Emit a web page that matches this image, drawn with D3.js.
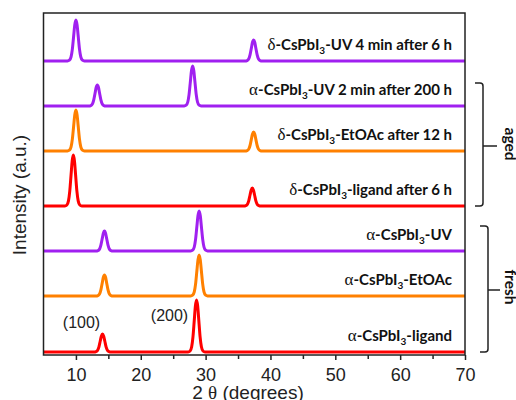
<!DOCTYPE html>
<html><head><meta charset="utf-8">
<script src="https://cdn.jsdelivr.net/npm/d3@7"></script>
<style>body{margin:0;background:#fff}svg{display:block}</style>
</head><body>
<svg id="chart" width="516" height="400"></svg>
<script>
// ---------- data ----------
const xTicks = [10, 20, 30, 40, 50, 60, 70];
const xMinorTicks = [15, 25, 35, 45, 55, 65];
const xDomain = [5, 70];
const yDomain = [0, 342];

// series, top to bottom
const phases = ["δ", "α", "δ", "δ", "α", "α", "α"];
const labelMain = ["-CsPbI", "-CsPbI", "-CsPbI", "-CsPbI", "-CsPbI", "-CsPbI", "-CsPbI"];
const labelSub = ["3", "3", "3", "3", "3", "3", "3"];
const labelTail = ["-UV 4 min after 6 h", "-UV 2 min after 200 h", "-EtOAc after 12 h",
                   "-ligand after 6 h", "-UV", "-EtOAc", "-ligand"];
const colorKeys = ["UV", "UV", "EtOAc", "ligand", "UV", "EtOAc", "ligand"];
const offsets = [294, 249, 204, 149, 104, 59, 3];

const s1 = [[5,0],[8.7,0],[9.0,0.8],[9.25,4.1],[9.45,11.9],[9.65,25],[9.82,36.1],[10.0,41],[10.18,36.1],[10.35,25],[10.55,11.9],[10.75,4.1],[11.0,0.8],[11.3,0],
  [36.1,0],[36.4,0.4],[36.65,2.1],[36.85,6.1],[37.05,12.8],[37.22,18.5],[37.4,21],[37.58,18.5],[37.75,12.8],[37.95,6.1],[38.15,2.1],[38.4,0.4],[38.7,0],[70,0]];
const s2 = [[5,0],[12.0,0],[12.3,0.4],[12.55,2.1],[12.75,6.1],[12.95,12.8],[13.12,18.5],[13.3,21],[13.48,18.5],[13.65,12.8],[13.85,6.1],[14.05,2.1],[14.3,0.4],[14.6,0],
  [26.7,0],[27.0,0.8],[27.25,4],[27.45,11.6],[27.65,24.4],[27.82,35.2],[28.0,40],[28.18,35.2],[28.35,24.4],[28.55,11.6],[28.75,4],[29.0,0.8],[29.3,0],[70,0]];
const s3 = [[5,0],[8.7,0],[9.0,0.8],[9.25,4.1],[9.45,11.9],[9.65,25],[9.82,36.1],[10.0,41],[10.18,36.1],[10.35,25],[10.55,11.9],[10.75,4.1],[11.0,0.8],[11.3,0],
  [36.1,0],[36.4,0.4],[36.65,1.9],[36.85,5.5],[37.05,11.6],[37.22,16.7],[37.4,19],[37.58,16.7],[37.75,11.6],[37.95,5.5],[38.15,1.9],[38.4,0.4],[38.7,0],[70,0]];
const s4 = [[5,0],[8.3,0],[8.6,1],[8.85,5.1],[9.05,14.8],[9.25,31.1],[9.42,44.9],[9.6,51],[9.78,44.9],[9.95,31.1],[10.15,14.8],[10.35,5.1],[10.6,1],[10.9,0],
  [35.9,0],[36.2,0.4],[36.45,1.8],[36.65,5.2],[36.85,11],[37.02,15.8],[37.2,18],[37.38,15.8],[37.55,11],[37.75,5.2],[37.95,1.8],[38.2,0.4],[38.5,0],[70,0]];
const s5 = [[5,0],[13.1,0],[13.4,0.4],[13.65,2],[13.85,5.8],[14.05,12.2],[14.22,17.6],[14.4,20],[14.58,17.6],[14.75,12.2],[14.95,5.8],[15.15,2],[15.4,0.4],[15.7,0],
  [27.7,0],[28.0,0.8],[28.25,4],[28.45,11.6],[28.65,24.4],[28.82,35.2],[29.0,40],[29.18,35.2],[29.35,24.4],[29.55,11.6],[29.75,4],[30.0,0.8],[30.3,0],[70,0]];
const s6 = [[5,0],[13.1,0],[13.4,0.4],[13.65,2.1],[13.85,6.1],[14.05,12.8],[14.22,18.5],[14.4,21],[14.58,18.5],[14.75,12.8],[14.95,6.1],[15.15,2.1],[15.4,0.4],[15.7,0],
  [27.7,0],[28.0,0.8],[28.25,4.1],[28.45,11.9],[28.65,25],[28.82,36.1],[29.0,41],[29.18,36.1],[29.35,25],[29.55,11.9],[29.75,4.1],[30.0,0.8],[30.3,0],[70,0]];
const s7 = [[5,0],[12.8,0],[13.1,0.4],[13.35,1.8],[13.55,5.2],[13.75,11],[13.92,15.8],[14.1,18],[14.28,15.8],[14.45,11],[14.65,5.2],[14.85,1.8],[15.1,0.4],[15.4,0],
  [27.3,0],[27.6,1],[27.85,5.2],[28.05,15.1],[28.25,31.7],[28.42,45.8],[28.6,52],[28.78,45.8],[28.95,31.7],[29.15,15.1],[29.35,5.2],[29.6,1],[29.9,0],[70,0]];
const seriesData = [s1, s2, s3, s4, s5, s6, s7];

const peakLabels = ["(100)", "(200)"];
const peakLabelX = [14.1, 28.6];
const groupNames = ["aged", "fresh"];

// ---------- layout ----------
const W = 516, H = 400;
const L = 43.5, R = 465, T = 13, B = 355;
const svg = d3.select("#chart");

const x = d3.scaleLinear().domain(xDomain).range([L, R]);
const y = d3.scaleLinear().domain(yDomain).range([B, T]);
const color = d3.scaleOrdinal().domain(["UV", "EtOAc", "ligand"]).range(["#a020f0", "#ff8000", "#ff0000"]);

// traces
const line = d3.line().x(d => x(d[0])).curve(d3.curveMonotoneX);
seriesData.forEach((s, i) => {
  svg.append("path")
    .attr("d", line.y(d => y(d[1] + offsets[i]))(s))
    .attr("fill", "none")
    .attr("stroke", color(colorKeys[i]))
    .attr("stroke-width", 3)
    .attr("stroke-linejoin", "round");
});

// frame
svg.append("rect").attr("x", L).attr("y", T).attr("width", R - L).attr("height", B - T)
  .attr("fill", "none").attr("stroke", "#222").attr("stroke-width", 1.5);

// x axis
const xAxis = svg.append("g").attr("transform", `translate(0,${B})`)
  .call(d3.axisBottom(x).tickValues(xTicks).tickSize(5).tickPadding(8).tickFormat(d3.format("d")));
xAxis.select(".domain").remove();
xAxis.selectAll("line").attr("stroke", "#222").attr("stroke-width", 1.5);
xAxis.selectAll("text").attr("font-family", "Liberation Sans, Arial, sans-serif").attr("font-size", 18).attr("fill", "#222");
const xMinor = svg.append("g").attr("transform", `translate(0,${B})`)
  .call(d3.axisBottom(x).tickValues(xMinorTicks).tickSize(4).tickFormat(""));
xMinor.select(".domain").remove();
xMinor.selectAll("line").attr("stroke", "#222").attr("stroke-width", 1.5);

// axis titles
const xt = svg.append("text").attr("x", 248).attr("y", 398.5).attr("text-anchor", "middle")
  .attr("font-family", "Liberation Sans, Arial, sans-serif").attr("font-size", 19).attr("fill", "#222");
xt.append("tspan").text("2 ");
xt.append("tspan").attr("font-family", "Liberation Serif, serif").text("θ");
xt.append("tspan").text(" (degrees)");

svg.append("text").attr("transform", `translate(26,195) rotate(-90)`).attr("text-anchor", "middle")
  .attr("font-family", "Liberation Sans, Arial, sans-serif").attr("font-size", 19).attr("fill", "#222")
  .text("Intensity (a.u.)");

// series labels
const labFont = "Lato, Carlito, sans-serif";
seriesData.forEach((s, i) => {
  const t = svg.append("text").attr("x", 452).attr("y", y(offsets[i]) - 11.5).attr("text-anchor", "end")
    .attr("font-family", labFont).attr("font-weight", "bold").attr("font-size", 15).attr("fill", "#111");
  t.append("tspan").attr("font-family", "Liberation Serif, serif").attr("font-weight", "normal").attr("font-size", 17).text(phases[i]);
  t.append("tspan").text(labelMain[i]);
  t.append("tspan").attr("font-size", 10).attr("dy", 4).text(labelSub[i]);
  t.append("tspan").attr("dy", -4).text(labelTail[i]);
});

// peak labels
const peakDx = [-21, -27];
const peakDy = [-6, 21];
peakLabels.forEach((p, j) => {
  const top = d3.max(s7.filter(d => Math.abs(d[0] - peakLabelX[j]) < 0.01), d => d[1]);
  svg.append("text").attr("x", x(peakLabelX[j]) + peakDx[j]).attr("y", y(top + offsets[6]) + peakDy[j])
    .attr("text-anchor", "middle").attr("font-family", "Liberation Sans, Arial, sans-serif")
    .attr("font-size", 16).attr("fill", "#222").text(p);
});

// brackets
function bracket(xv, y0, y1, ym, hook, tick) {
  const r = 3;
  const p = d3.path();
  p.moveTo(xv - hook, y0);
  p.lineTo(xv - r, y0);
  p.quadraticCurveTo(xv, y0, xv, y0 + r);
  p.lineTo(xv, y1 - r);
  p.quadraticCurveTo(xv, y1, xv - r, y1);
  p.lineTo(xv - hook, y1);
  p.moveTo(xv, ym);
  p.lineTo(xv + tick, ym);
  svg.append("path").attr("d", p.toString()).attr("fill", "none").attr("stroke", "#222").attr("stroke-width", 1.5);
}
bracket(483, y(offsets[1] + 23), y(offsets[3]), 146, 8, 14);
bracket(488, y(offsets[4] + 25), y(offsets[6]), 290, 8, 12);

svg.append("text").attr("transform", `translate(505,144) rotate(90)`).attr("text-anchor", "middle")
  .attr("font-family", labFont).attr("font-weight", "bold").attr("font-size", 15.5).attr("fill", "#111").text(groupNames[0]);
svg.append("text").attr("transform", `translate(505,287) rotate(90)`).attr("text-anchor", "middle")
  .attr("font-family", labFont).attr("font-weight", "bold").attr("font-size", 15.5).attr("fill", "#111").text(groupNames[1]);
</script>
</body></html>
